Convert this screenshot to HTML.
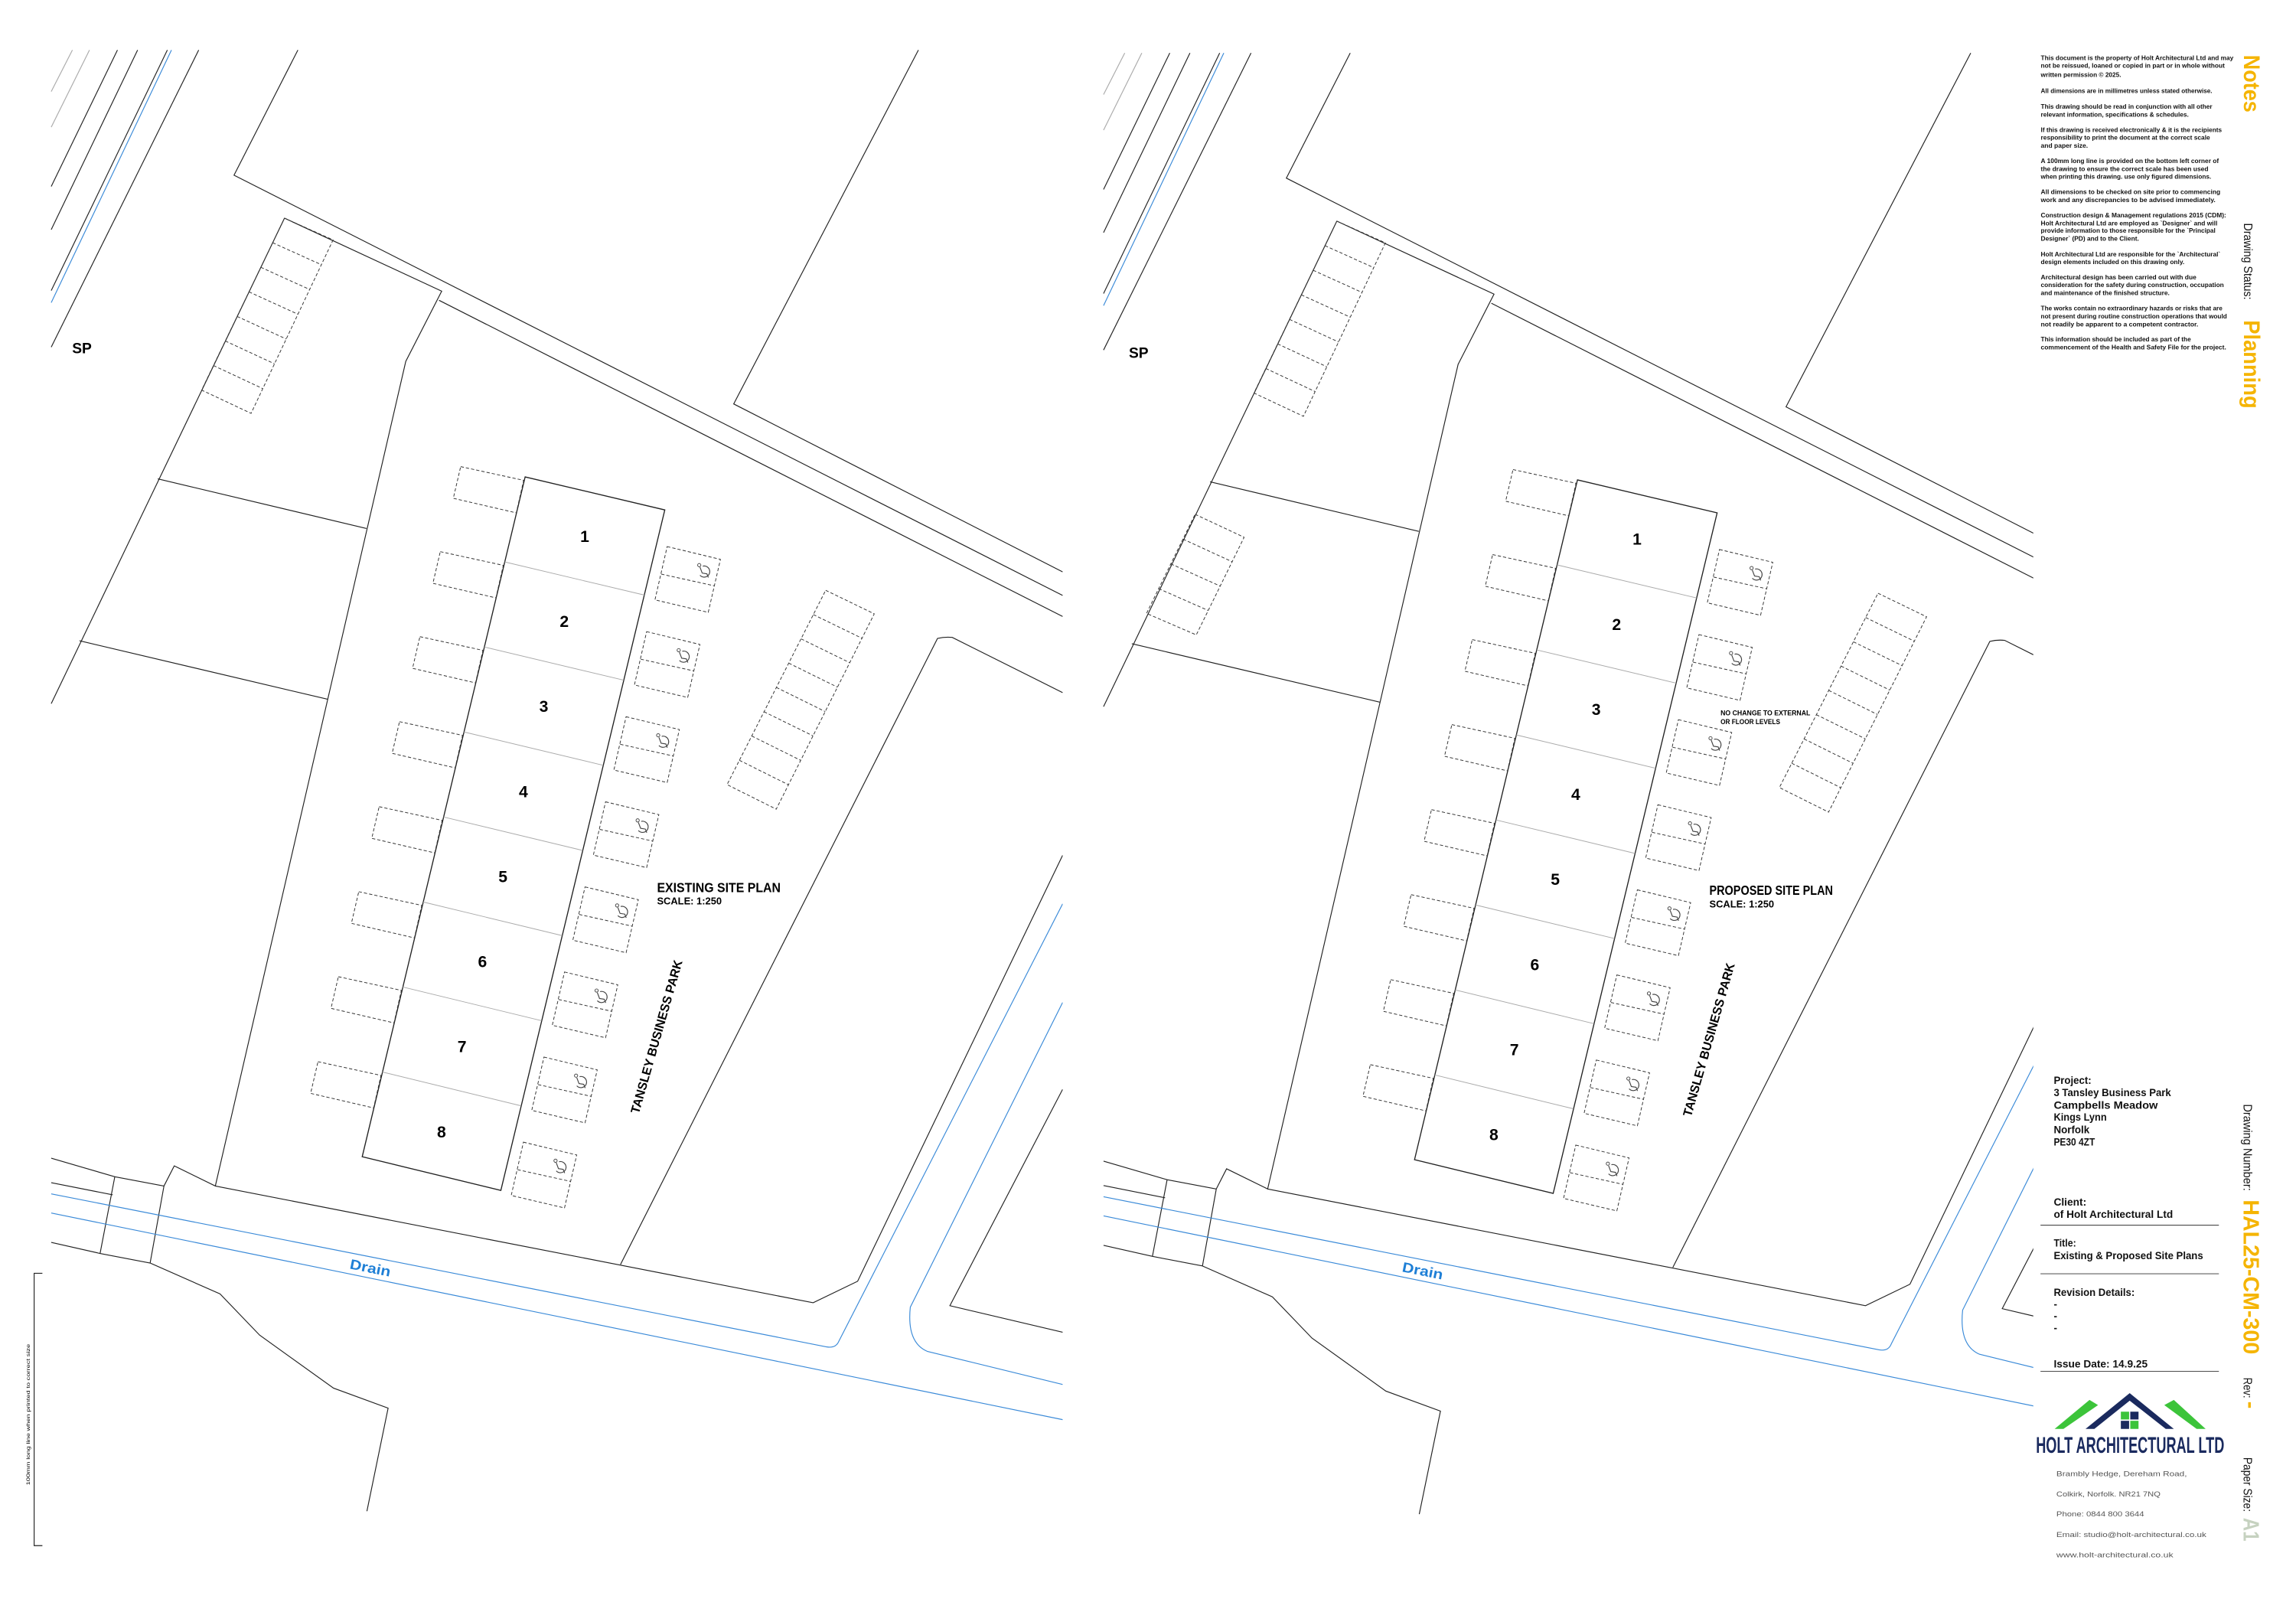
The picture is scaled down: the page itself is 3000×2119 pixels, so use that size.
<!DOCTYPE html>
<html><head><meta charset="utf-8"><style>
html,body{margin:0;padding:0;background:#fff;}
svg{display:block;}
text{font-family:"Liberation Sans",sans-serif;}
</style></head><body>
<svg xmlns="http://www.w3.org/2000/svg" xmlns:xlink="http://www.w3.org/1999/xlink" width="3000" height="2119" viewBox="0 0 1560 1101.87" preserveAspectRatio="none">
<defs>
<clipPath id="cl"><rect x="0" y="0" width="722" height="1102"/></clipPath>
<clipPath id="cr"><rect x="745" y="0" width="636.5" height="1102"/></clipPath>
<g id="lrect"><polygon points="0,0 42.8,9.3 37.8,31.4 -5,21.5" fill="none" stroke="#333" stroke-width="0.5" stroke-dasharray="2.2,1.4"/></g>
<g id="acc">
<polygon points="0,0 36.2,8.7 27.9,44.7 -8.3,36.2" fill="none" stroke="#333" stroke-width="0.5" stroke-dasharray="2.2,1.4"/>
<line x1="-4" y1="18.7" x2="32.2" y2="26.7" stroke="#333" stroke-width="0.5" stroke-dasharray="2.2,1.4"/>
<path d="M24.2,13.3 A3.8,3.8 0 1 1 22.3,19.5" fill="none" stroke="#444" stroke-width="0.6"/>
<circle cx="21.8" cy="12.6" r="1.1" fill="none" stroke="#444" stroke-width="0.5"/>
<path d="M22.3,14 L23.8,18 L27,18.5 L28,21" fill="none" stroke="#444" stroke-width="0.6"/>
</g>
<g id="plan" fill="none" stroke="#222" stroke-width="0.6">
<line x1="49.2" y1="34" x2="34.8" y2="62.2" stroke="#aaa"/>
<line x1="60.8" y1="34" x2="34.8" y2="86.4" stroke="#aaa"/>
<line x1="79.8" y1="34" x2="34.8" y2="126.7"/>
<line x1="93.5" y1="34" x2="34.8" y2="156"/>
<line x1="113.7" y1="34" x2="34.8" y2="197.4"/>
<line x1="116.5" y1="34" x2="34.8" y2="205.6" stroke="#3a8ad8"/>
<line x1="135" y1="34" x2="34.8" y2="235.8"/>
<polyline points="202.4,34 159,119 722,404.5"/>
<line x1="298.3" y1="204" x2="722" y2="418.8"/>
<polyline points="624,34 498.5,274.4 722,388.5"/>
<polyline points="193.3,148.2 300.1,197.8 275.7,245.5 146.3,805.7"/>
<line x1="193.3" y1="148.2" x2="34.8" y2="478"/>
<line x1="107.2" y1="325.3" x2="249" y2="359"/>
<line x1="54" y1="435.3" x2="222.5" y2="475"/>
<g stroke="#333" stroke-width="0.5" stroke-dasharray="2.2,1.4">
<polygon points="193.3,148.2 226.3,163 170.6,280.8 137,265"/>
<line x1="185.26" y1="164.89" x2="218.34" y2="179.83"/>
<line x1="177.22" y1="181.58" x2="210.38" y2="196.66"/>
<line x1="169.18" y1="198.27" x2="202.42" y2="213.49"/>
<line x1="161.14" y1="214.96" x2="194.46" y2="230.32"/>
<line x1="153.1" y1="231.65" x2="186.5" y2="247.15"/>
<line x1="145.06" y1="248.34" x2="178.54" y2="263.98"/>
</g>
<g stroke="#333" stroke-width="0.5" stroke-dasharray="2.2,1.4">
<polygon points="561,401 594,417 527.4,549.7 494,533"/>
<line x1="552.6" y1="417.5" x2="585.7" y2="433.6"/>
<line x1="544.3" y1="434" x2="577.4" y2="450.2"/>
<line x1="535.9" y1="450.5" x2="569" y2="466.8"/>
<line x1="527.5" y1="467" x2="560.7" y2="483.4"/>
<line x1="519.1" y1="483.5" x2="552.4" y2="499.9"/>
<line x1="510.8" y1="500" x2="544" y2="516.5"/>
<line x1="502.4" y1="516.5" x2="535.7" y2="533.1"/>
</g>
<polygon points="356.8,324 451.7,346.4 340.3,808.7 246.1,785.8" stroke-width="0.7"/>
<g stroke="#aaa" stroke-width="0.5">
<line x1="342.95" y1="381.75" x2="437.74" y2="404.23"/>
<line x1="329.1" y1="439.5" x2="423.78" y2="462.06"/>
<line x1="315.25" y1="497.25" x2="409.82" y2="519.89"/>
<line x1="301.4" y1="555" x2="395.86" y2="577.72"/>
<line x1="287.55" y1="612.75" x2="381.9" y2="635.55"/>
<line x1="273.7" y1="670.5" x2="367.94" y2="693.38"/>
<line x1="259.85" y1="728.25" x2="353.98" y2="751.21"/>
</g>
<use xlink:href="#lrect" transform="translate(313,317)"/>
<use xlink:href="#lrect" transform="translate(299.15,374.75)"/>
<use xlink:href="#lrect" transform="translate(285.3,432.5)"/>
<use xlink:href="#lrect" transform="translate(271.45,490.25)"/>
<use xlink:href="#lrect" transform="translate(257.6,548)"/>
<use xlink:href="#lrect" transform="translate(243.75,605.75)"/>
<use xlink:href="#lrect" transform="translate(229.9,663.5)"/>
<use xlink:href="#lrect" transform="translate(216.05,721.25)"/>
<use xlink:href="#acc" transform="translate(453.3,371.3)"/>
<use xlink:href="#acc" transform="translate(439.35,429.1)"/>
<use xlink:href="#acc" transform="translate(425.4,486.9)"/>
<use xlink:href="#acc" transform="translate(411.45,544.7)"/>
<use xlink:href="#acc" transform="translate(397.5,602.5)"/>
<use xlink:href="#acc" transform="translate(383.55,660.3)"/>
<use xlink:href="#acc" transform="translate(369.6,718.1)"/>
<use xlink:href="#acc" transform="translate(355.65,775.9)"/>
<polyline points="34.8,786.8 78,799.4 111.4,805.7"/>
<line x1="34.8" y1="803.4" x2="76.6" y2="811.7"/>
<polyline points="34.8,844 68,851.5 102,858"/>
<line x1="78" y1="799.4" x2="68" y2="851.5"/>
<line x1="111.4" y1="805.7" x2="102" y2="858"/>
<polyline points="102,858 149.5,879 176.4,907 226.6,943 263.7,956.6 249.3,1026.6"/>
<polyline points="111.4,805.7 118.4,792 146.3,805.7 552.5,885 582.7,870.4 722,581"/>
<path d="M421.6,859 L637,433.7 Q642,432.5 647,433 L722,470.5"/>
<polyline points="722,740 645.4,887 722,905"/>
<g stroke="#3a8ad8" stroke-width="0.6">
<path d="M34.8,811 L561.8,915 Q568,916 570,911 L722,614"/>
<line x1="34.8" y1="824" x2="722" y2="964.4"/>
<path d="M722,681 L618.5,888 Q616,912 630,918 L722,940.5"/>
</g>
</g>
</defs>

<g clip-path="url(#cl)"><use xlink:href="#plan"/></g>
<g clip-path="url(#cr)"><use xlink:href="#plan" transform="translate(715,2)"/></g>
<g fill="none" stroke="#333" stroke-width="0.5" stroke-dasharray="2.2,1.4">
<polygon points="812,349.4 845.3,365 812.8,431.3 779,416.7"/>
<line x1="803.75" y1="366.23" x2="837.18" y2="381.58"/>
<line x1="795.5" y1="383.05" x2="829.05" y2="398.15"/>
<line x1="787.25" y1="399.88" x2="820.93" y2="414.73"/>
</g>

<g font-weight="bold" fill="#000">
<text x="49" y="240" font-size="10">SP</text>
<text x="767" y="243" font-size="10">SP</text>
<g font-size="11" text-anchor="middle">
<text x="397.3" y="368.1">1</text><text x="383.4" y="425.9">2</text><text x="369.5" y="483.7">3</text><text x="355.6" y="541.5">4</text>
<text x="341.7" y="599.2">5</text><text x="327.8" y="657">6</text><text x="313.9" y="714.8">7</text><text x="300" y="772.6">8</text>
<text x="1112.3" y="370.1">1</text><text x="1098.4" y="427.9">2</text><text x="1084.5" y="485.7">3</text><text x="1070.6" y="543.5">4</text>
<text x="1056.7" y="601.2">5</text><text x="1042.8" y="659">6</text><text x="1028.9" y="716.8">7</text><text x="1015" y="774.6">8</text>
</g>
<text x="446.4" y="606" font-size="9" textLength="84" lengthAdjust="spacingAndGlyphs">EXISTING SITE PLAN</text>
<text x="446.4" y="614.5" font-size="6.5" textLength="44" lengthAdjust="spacingAndGlyphs">SCALE: 1:250</text>
<text x="1161.4" y="608" font-size="9" textLength="84" lengthAdjust="spacingAndGlyphs">PROPOSED SITE PLAN</text>
<text x="1161.4" y="616.5" font-size="6.5" textLength="44" lengthAdjust="spacingAndGlyphs">SCALE: 1:250</text>
<text transform="translate(434,757) rotate(-74)" font-size="8.5" textLength="108" lengthAdjust="spacingAndGlyphs">TANSLEY BUSINESS PARK</text>
<text transform="translate(1149,759) rotate(-74)" font-size="8.5" textLength="108" lengthAdjust="spacingAndGlyphs">TANSLEY BUSINESS PARK</text>
<text x="1169" y="486" font-size="4.6" textLength="61" lengthAdjust="spacingAndGlyphs">NO CHANGE TO EXTERNAL</text>
<text x="1169" y="492" font-size="4.6" textLength="40.5" lengthAdjust="spacingAndGlyphs">OR FLOOR LEVELS</text>
<text transform="translate(251,864.5) rotate(11.2)" font-size="9.5" fill="#1e7fd6" text-anchor="middle" textLength="28" lengthAdjust="spacingAndGlyphs">Drain</text>
<text transform="translate(966,866.5) rotate(11.2)" font-size="9.5" fill="#1e7fd6" text-anchor="middle" textLength="28" lengthAdjust="spacingAndGlyphs">Drain</text>
</g>

<g stroke="#222" stroke-width="0.6" fill="none">
<polyline points="28.8,865 23.2,865 23.2,1050 28.8,1050"/>
</g>
<text transform="translate(20.3,961) rotate(-90)" font-size="3.4" text-anchor="middle" textLength="96" lengthAdjust="spacingAndGlyphs">100mm long line when printed to correct size</text>

<g font-size="4.4" font-weight="bold" fill="#111">
<text x="1386.6" y="40.9" textLength="130.9" lengthAdjust="spacingAndGlyphs">This document is the property of Holt Architectural Ltd and may</text>
<text x="1386.6" y="46.1" textLength="125" lengthAdjust="spacingAndGlyphs">not be reissued, loaned or copied in part or in whole without</text>
<text x="1386.6" y="52.3" textLength="54.6" lengthAdjust="spacingAndGlyphs">written permission © 2025.</text>
<text x="1386.6" y="63.3" textLength="116.5" lengthAdjust="spacingAndGlyphs">All dimensions are in millimetres unless stated otherwise.</text>
<text x="1386.6" y="73.8" textLength="116.5" lengthAdjust="spacingAndGlyphs">This drawing should be read in conjunction with all other</text>
<text x="1386.6" y="79.2" textLength="100.5" lengthAdjust="spacingAndGlyphs">relevant information, specifications &amp; schedules.</text>
<text x="1386.6" y="89.8" textLength="123" lengthAdjust="spacingAndGlyphs">If this drawing is received electronically &amp; it is the recipients</text>
<text x="1386.6" y="95" textLength="115" lengthAdjust="spacingAndGlyphs">responsibility to print the document at the correct scale</text>
<text x="1386.6" y="100.3" textLength="32" lengthAdjust="spacingAndGlyphs">and paper size.</text>
<text x="1386.6" y="110.7" textLength="121" lengthAdjust="spacingAndGlyphs">A 100mm long line is provided on the bottom left corner of</text>
<text x="1386.6" y="116.1" textLength="113.9" lengthAdjust="spacingAndGlyphs">the drawing to ensure the correct scale has been used</text>
<text x="1386.6" y="121.5" textLength="115.8" lengthAdjust="spacingAndGlyphs">when printing this drawing. use only figured dimensions.</text>
<text x="1386.6" y="131.9" textLength="122" lengthAdjust="spacingAndGlyphs">All dimensions to be checked on site prior to commencing</text>
<text x="1386.6" y="137.3" textLength="118.7" lengthAdjust="spacingAndGlyphs">work  and any discrepancies to be advised immediately.</text>
<text x="1386.6" y="147.8" textLength="126" lengthAdjust="spacingAndGlyphs">Construction design &amp; Management regulations 2015 (CDM):</text>
<text x="1386.6" y="153.2" textLength="120" lengthAdjust="spacingAndGlyphs">Holt Architectural Ltd are employed as `Designer` and will</text>
<text x="1386.6" y="158.2" textLength="118.7" lengthAdjust="spacingAndGlyphs">provide information to those responsible for the `Principal</text>
<text x="1386.6" y="163.6" textLength="66.7" lengthAdjust="spacingAndGlyphs">Designer` (PD) and to the Client.</text>
<text x="1386.6" y="174.2" textLength="122" lengthAdjust="spacingAndGlyphs">Holt Architectural Ltd are responsible for the `Architectural`</text>
<text x="1386.6" y="179.5" textLength="97.6" lengthAdjust="spacingAndGlyphs">design elements included on this drawing only.</text>
<text x="1386.6" y="189.9" textLength="105.7" lengthAdjust="spacingAndGlyphs">Architectural design has been carried out with due</text>
<text x="1386.6" y="195.1" textLength="124.4" lengthAdjust="spacingAndGlyphs">consideration for the safety during construction, occupation</text>
<text x="1386.6" y="200.5" textLength="87.5" lengthAdjust="spacingAndGlyphs">and maintenance of the finished structure.</text>
<text x="1386.6" y="210.9" textLength="123.4" lengthAdjust="spacingAndGlyphs">The works contain no extraordinary hazards or risks that are</text>
<text x="1386.6" y="216.3" textLength="126.5" lengthAdjust="spacingAndGlyphs">not present during routine construction operations that would</text>
<text x="1386.6" y="221.7" textLength="107" lengthAdjust="spacingAndGlyphs">not readily be apparent to a competent contractor.</text>
<text x="1386.6" y="232" textLength="102" lengthAdjust="spacingAndGlyphs">This information should be included as part of the</text>
<text x="1386.6" y="237.4" textLength="126" lengthAdjust="spacingAndGlyphs">commencement of the Health and Safety File for the project.</text>
</g>

<g>
<text transform="translate(1524.7,37.3) rotate(90)" font-size="15.5" font-weight="bold" fill="#f5b400" textLength="39" lengthAdjust="spacingAndGlyphs">Notes</text>
<text transform="translate(1524.7,151.6) rotate(90)" font-size="8" fill="#111" textLength="52" lengthAdjust="spacingAndGlyphs">Drawing Status:</text>
<text transform="translate(1524.7,217.5) rotate(90)" font-size="15.5" font-weight="bold" fill="#f5b400" textLength="60" lengthAdjust="spacingAndGlyphs">Planning</text>
<text transform="translate(1524.5,750) rotate(90)" font-size="8" fill="#111" textLength="59" lengthAdjust="spacingAndGlyphs">Drawing Number:</text>
<text transform="translate(1524.5,815) rotate(90)" font-size="15" font-weight="bold" fill="#f5b400" textLength="105" lengthAdjust="spacingAndGlyphs">HAL25-CM-300</text>
<text transform="translate(1524.5,935.8) rotate(90)" font-size="8" fill="#111" textLength="14" lengthAdjust="spacingAndGlyphs">Rev:</text>
<text transform="translate(1524.5,952) rotate(90)" font-size="15" font-weight="bold" fill="#f5b400">-</text>
<text transform="translate(1524.5,990) rotate(90)" font-size="8" fill="#111" textLength="37" lengthAdjust="spacingAndGlyphs">Paper Size:</text>
<text transform="translate(1524.5,1031) rotate(90)" font-size="15" font-weight="bold" fill="#c6d2c0" textLength="16" lengthAdjust="spacingAndGlyphs">A1</text>
</g>

<g font-size="7" font-weight="bold" fill="#111">
<text x="1395.4" y="736.4" textLength="25.6" lengthAdjust="spacingAndGlyphs">Project:</text>
<text x="1395.4" y="744.7" textLength="79.7" lengthAdjust="spacingAndGlyphs">3 Tansley Business Park</text>
<text x="1395.4" y="753.1" textLength="70.7" lengthAdjust="spacingAndGlyphs">Campbells Meadow</text>
<text x="1395.4" y="761.4" textLength="36" lengthAdjust="spacingAndGlyphs">Kings Lynn</text>
<text x="1395.4" y="769.8" textLength="24.3" lengthAdjust="spacingAndGlyphs">Norfolk</text>
<text x="1395.4" y="778.1" textLength="28" lengthAdjust="spacingAndGlyphs">PE30 4ZT</text>
<text x="1395.4" y="819" textLength="22.2" lengthAdjust="spacingAndGlyphs">Client:</text>
<text x="1395.4" y="827.3" textLength="81" lengthAdjust="spacingAndGlyphs">of Holt Architectural Ltd</text>
<text x="1395.4" y="846.8" textLength="15.2" lengthAdjust="spacingAndGlyphs">Title:</text>
<text x="1395.4" y="855.4" textLength="101.5" lengthAdjust="spacingAndGlyphs">Existing &amp; Proposed Site Plans</text>
<text x="1395.4" y="880.3" textLength="55" lengthAdjust="spacingAndGlyphs">Revision Details:</text>
<text x="1395.4" y="888.4">-</text>
<text x="1395.4" y="896.5">-</text>
<text x="1395.4" y="904.6">-</text>
<text x="1395.4" y="929" textLength="63.8" lengthAdjust="spacingAndGlyphs">Issue Date: 14.9.25</text>
</g>
<g stroke="#333" stroke-width="0.5">
<line x1="1386.4" y1="832.3" x2="1507.6" y2="832.3"/>
<line x1="1386.4" y1="865.3" x2="1507.6" y2="865.3"/>
<line x1="1386.4" y1="931.6" x2="1507.6" y2="931.6"/>
</g>

<polygon points="1396,970.7 1419.7,951 1425.5,954.5 1402,970.7" fill="#3cc43a"/>
<polygon points="1498.6,970.7 1477,951 1470.5,954.5 1492.5,970.7" fill="#3cc43a"/>
<polygon points="1417,970.7 1447,946.4 1477,970.7 1471.5,970.7 1447,951.5 1423,970.7" fill="#1a2a5e"/>
<rect x="1441" y="959" width="5.6" height="5.3" fill="#3cc43a"/>
<rect x="1447.4" y="959" width="5.6" height="5.3" fill="#1a2a5e"/>
<rect x="1441" y="965.2" width="5.6" height="5.5" fill="#1a2a5e"/>
<rect x="1447.4" y="965.2" width="5.6" height="5.5" fill="#3cc43a"/>
<text x="1383.3" y="986.9" font-family="Liberation Sans Narrow, Liberation Sans, sans-serif" font-size="15.5" font-weight="bold" fill="#1a2a5e" textLength="128" lengthAdjust="spacingAndGlyphs">HOLT ARCHITECTURAL LTD</text>
<g font-size="4.8" fill="#555">
<text x="1397.2" y="1002.8" textLength="88.7" lengthAdjust="spacingAndGlyphs">Brambly Hedge, Dereham Road,</text>
<text x="1397.2" y="1016.6" textLength="70.7" lengthAdjust="spacingAndGlyphs">Colkirk, Norfolk. NR21 7NQ</text>
<text x="1397.2" y="1030.1" textLength="59.6" lengthAdjust="spacingAndGlyphs">Phone:  0844 800 3644</text>
<text x="1397.2" y="1044.1" textLength="101.9" lengthAdjust="spacingAndGlyphs">Email: studio@holt-architectural.co.uk</text>
<text x="1397.2" y="1058" textLength="79.4" lengthAdjust="spacingAndGlyphs">www.holt-architectural.co.uk</text>
</g>
</svg>
</body></html>
